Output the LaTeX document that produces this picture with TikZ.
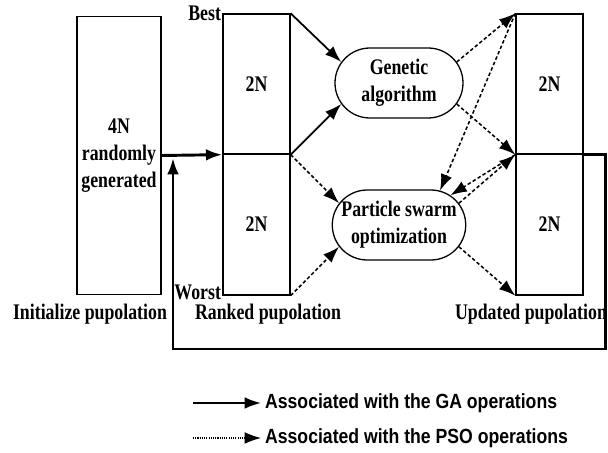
\documentclass[tikz,border=0pt]{standalone}
\usepackage{fontspec}
\setmainfont{Liberation Serif}[FakeStretch=0.8]
\setsansfont{Liberation Sans}[FakeStretch=0.86]
\usepackage{tikz}
\usetikzlibrary{positioning}
\usetikzlibrary{arrows.meta}
\usetikzlibrary{shapes.misc}
\tikzset{>={Latex[length=14pt,width=10pt]}}
\tikzset{
	pop/.style={draw,line width=1.1pt,minimum width=2.01cm,inner sep=0pt},
	alg/.style={draw,line width=1.1pt,rounded rectangle,minimum width=3.84cm,minimum height=2.1cm,inner sep=0pt},
	gaop/.style={->,line width=1.5pt},
	psoop/.style={->,line width=1.3pt,dash pattern=on 3pt off 2pt},
	loopop/.style={->,line width=2.5pt},
	legtxt/.style={anchor=west,font=\sffamily\bfseries\fontsize{17.5}{20}\selectfont}
}

\begin{document}
\begin{tikzpicture}[x=0.03cm,y=-0.03cm,every node/.style={font=\bfseries\fontsize{19}{23}\selectfont,align=center}]
	\useasboundingbox (0,0) rectangle (608,453);
	% populations
	\node[pop,minimum width=2.52cm,minimum height=8.34cm] (init) at (119,155.5) {4N\\randomly\\generated};
	\node[pop,minimum height=4.2cm] (rk1) at (256.5,84) {2N};
	\node[pop,minimum height=4.23cm] (rk2) at (256.5,224.5) {2N};
	\node[pop,minimum height=4.2cm] (up1) at (549.5,84) {2N};
	\node[pop,minimum height=4.23cm] (up2) at (549.5,224.5) {2N};
	\node[anchor=east,inner sep=1pt] (best) at (rk1.north west) {Best};
	\node[anchor=base east,inner sep=1pt,yshift=-3pt] (worst) at (rk2.south west) {Worst};
	\node (initlbl) at (90,314) {Initialize pupolation};
	\node (rklbl) at (268,314) {Ranked pupolation};
	\node (uplbl) at (531,314) {Updated pupolation};
	% operators
	\node[alg] (ga) at (399,83) {Genetic\\algorithm};
	\node[alg] (pso) at (399,225) {Particle swarm\\optimization};
	\draw[gaop] (rk1.north east) -- (ga.160);
	\draw[gaop] (rk1.south east) -- (ga.200);
	\draw[psoop] (rk1.south east) -- (pso.160);
	\draw[psoop] (rk2.south east) -- (pso.200);
	\draw[psoop] (ga.20) -- (up1.north west);
	\draw[psoop] (ga.340) -- (up1.south west);
	\draw[psoop] (up1.north west) -- (pso.40);
	\draw[psoop] (up1.south west) -- (pso.30);
	\draw[psoop] (pso.20) -- (up1.south west);
	\draw[psoop] (pso.340) -- (up2.south west);
	% main flow and loop back
	\coordinate (back) at (173,349);
	\coordinate (entry) at (173,158);
	\draw[loopop] (init.east) -- (rk1.south west);
	\draw[loopop] (up1.south east) -- ++(22,0) |- (back) -- (entry);
	% legend
	\coordinate (l1) at (193,403);
	\coordinate (l2) at (193,438);
	\node[legtxt] (t1) at (261,403) {Associated with the GA operations};
	\node[legtxt] (t2) at (261,438) {Associated with the PSO operations};
	\draw[->,line width=1.8pt] (l1) -- (t1.west);
	\draw[->,line width=0.9pt,densely dotted] (l2) -- (t2.west);
\end{tikzpicture}
\end{document}
